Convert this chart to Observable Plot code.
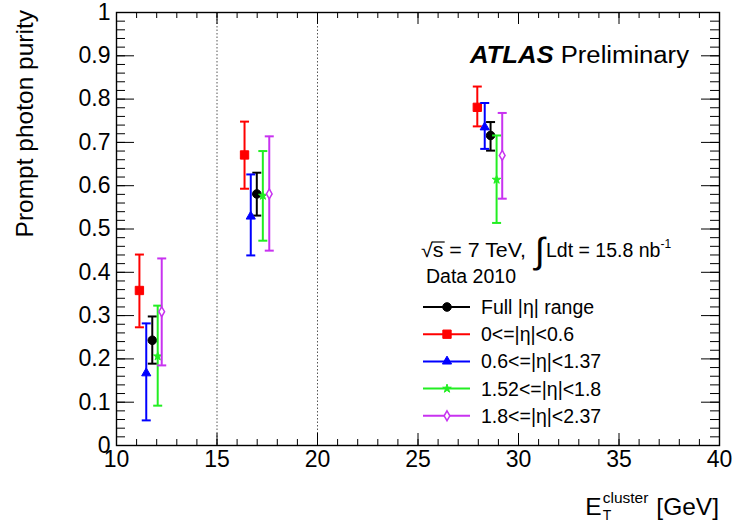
<!DOCTYPE html>
<html><head><meta charset="utf-8">
<script src="https://cdn.jsdelivr.net/npm/d3@7"></script>
<script src="https://cdn.jsdelivr.net/npm/@observablehq/plot@0.6"></script>
<style>
html,body{margin:0;padding:0;background:#fff;}
#chart svg{display:block;}
</style></head><body><div id="chart"></div>
<script>
// ---- data ----
const seriesLabels = ["Full |η| range", "0<=|η|<0.6", "0.6<=|η|<1.37", "1.52<=|η|<1.8", "1.8<=|η|<2.37"];
const etFull = [11.78, 16.98, 28.61];
const etEta1 = [11.14, 16.37, 27.95];
const etEta2 = [11.48, 16.68, 28.32];
const etEta3 = [12.05, 17.28, 28.91];
const etEta4 = [12.25, 17.60, 29.19];
const purityFull = [0.243, 0.581, 0.716];
const purityEta1 = [0.358, 0.671, 0.781];
const purityEta2 = [0.167, 0.529, 0.735];
const purityEta3 = [0.206, 0.577, 0.614];
const purityEta4 = [0.309, 0.581, 0.670];
const lowFull = [0.189, 0.531, 0.681];
const lowEta1 = [0.273, 0.593, 0.737];
const lowEta2 = [0.058, 0.439, 0.685];
const lowEta3 = [0.092, 0.473, 0.514];
const lowEta4 = [0.185, 0.450, 0.570];
const highFull = [0.298, 0.630, 0.747];
const highEta1 = [0.441, 0.748, 0.829];
const highEta2 = [0.282, 0.626, 0.791];
const highEta3 = [0.323, 0.680, 0.716];
const highEta4 = [0.432, 0.714, 0.768];
const xTicks = [10, 15, 20, 25, 30, 35, 40];
const yTicks = [0, 0.1, 0.2, 0.3, 0.4, 0.5, 0.6, 0.7, 0.8, 0.9, 1];
const regionEdges = [15, 20];

// ---- styles ----
const colors = ["#000000", "#ff0000", "#0000ff", "#22ee22", "#c832f0"];
const symbols = ["circle", "square", "triangle", "star", "diamond"];
const symR = [4.3, 4.7, 3.4, 2.7, 3.0];
const symFill = ["#000000", "#ff0000", "#0000ff", "#22ee22", "#ffffff"];
const FONT = "'Liberation Sans', Arial, Helvetica, sans-serif";

const ets = [etFull, etEta1, etEta2, etEta3, etEta4];
const pur = [purityFull, purityEta1, purityEta2, purityEta3, purityEta4];
const lows = [lowFull, lowEta1, lowEta2, lowEta3, lowEta4];
const highs = [highFull, highEta1, highEta2, highEta3, highEta4];
const series = seriesLabels.map((s, k) => ets[k].map((x, i) => ({series: s, x, y: pur[k][i], lo: lows[k][i], hi: highs[k][i]})));

const W = 736, H = 524, mL = 116, mR = 17, mT = 12, mB = 79;
const fw = W - mL - mR, fh = H - mT - mB;
const xMinor = d3.range(10, 40.001, 1);
const yMinor = d3.range(0, 1.0001, 0.02);

const cap = {draw(ctx, size) { const w = Math.sqrt(size / Math.PI); ctx.moveTo(-w, 0); ctx.lineTo(w, 0); }};

const seriesMarks = series.flatMap((rows, k) => [
  Plot.ruleX(rows, {x: "x", y1: "lo", y2: "hi", stroke: colors[k], strokeWidth: 2}),
  Plot.dot(rows, {x: "x", y: "lo", symbol: cap, r: 4.5, stroke: colors[k], strokeWidth: 2, fill: "none"}),
  Plot.dot(rows, {x: "x", y: "hi", symbol: cap, r: 4.5, stroke: colors[k], strokeWidth: 2, fill: "none"}),
  Plot.dot(rows, {x: "x", y: "y", symbol: symbols[k], r: symR[k], fill: symFill[k], stroke: colors[k], strokeWidth: k === 4 ? 1.5 : 1})
]);

const chart = Plot.plot({
  width: W, height: H,
  marginLeft: mL, marginRight: mR, marginTop: mT, marginBottom: mB,
  style: {fontFamily: FONT, background: "#fff", color: "#000"},
  x: {domain: [10, 40]},
  y: {domain: [0, 1]},
  marks: [
    Plot.ruleX(regionEdges, {stroke: "#555", strokeDasharray: "1.5,2", strokeWidth: 1}),
    Plot.ruleX(xMinor, {x: d => d, insetTop: fh - 6, stroke: "#000"}),
    Plot.ruleX(xMinor, {x: d => d, insetBottom: fh - 6, stroke: "#000"}),
    Plot.ruleX(xTicks, {x: d => d, insetTop: fh - 12, stroke: "#000"}),
    Plot.ruleX(xTicks, {x: d => d, insetBottom: fh - 12, stroke: "#000"}),
    Plot.ruleY(yMinor, {y: d => d, insetRight: fw - 9, stroke: "#000"}),
    Plot.ruleY(yMinor, {y: d => d, insetLeft: fw - 9, stroke: "#000"}),
    Plot.ruleY(yTicks, {y: d => d, insetRight: fw - 18, stroke: "#000"}),
    Plot.ruleY(yTicks, {y: d => d, insetLeft: fw - 18, stroke: "#000"}),
    Plot.frame({stroke: "#000", strokeWidth: 1.4}),
    Plot.axisX({ticks: xTicks, tickSize: 0, tickPadding: 5, label: null, fontSize: 23, tickFormat: d => String(d)}),
    Plot.axisY({ticks: yTicks, tickSize: 0, tickPadding: 6, label: null, fontSize: 23, tickFormat: d => String(+d.toFixed(1))}),
    ...seriesMarks
  ]
});
document.getElementById("chart").appendChild(chart);

// ---- annotations, axis titles and legend ----
const svg = d3.select(chart);
const g = svg.append("g").attr("font-family", FONT).attr("fill", "#000").attr("text-anchor", "start");

// y title
g.append("text").attr("transform", "translate(33,10) rotate(-90)").attr("text-anchor", "end")
  .attr("font-size", 24.5).text("Prompt photon purity");

// x title
const gev = g.append("text").attr("x", 719).attr("y", 515).attr("text-anchor", "end").attr("font-size", 24.5).text("[GeV]");
const gevX = gev.node().getBBox().x;
const clu = g.append("text").attr("x", gevX - 8).attr("y", 503).attr("text-anchor", "end").attr("font-size", 15.5).text("cluster");
const cluX = clu.node().getBBox().x;
g.append("text").attr("x", cluX).attr("y", 520).attr("font-size", 14).text("T");
g.append("text").attr("x", cluX - 1).attr("y", 515).attr("text-anchor", "end").attr("font-size", 24.5).text("E");

// ATLAS Preliminary
const atl = g.append("text").attr("x", 470).attr("y", 63).attr("font-size", 23.5)
  .attr("textLength", 219).attr("lengthAdjust", "spacingAndGlyphs");
atl.append("tspan").attr("font-weight", "bold").attr("font-style", "italic").text("ATLAS");
atl.append("tspan").text(" Preliminary");

// energy / luminosity
const lum = g.append("text").attr("x", 421).attr("y", 257).attr("font-size", 19.5)
  .attr("textLength", 105).attr("lengthAdjust", "spacingAndGlyphs");
lum.append("tspan").text("√");
const sT = lum.append("tspan").text("s");
lum.append("tspan").text(" = 7 TeV,");
const sBox = sT.node().getBBox();
g.append("line").attr("x1", sBox.x - 1).attr("x2", sBox.x + sBox.width + 1)
  .attr("y1", sBox.y + 3).attr("y2", sBox.y + 3).attr("stroke", "#000").attr("stroke-width", 1.2);
g.append("text").attr("x", 535).attr("y", 263).attr("font-size", 36)
  .attr("font-family", "'DejaVu Sans', sans-serif").attr("font-weight", "300").text("∫");
const ldt = g.append("text").attr("x", 546).attr("y", 257).attr("font-size", 19.5);
ldt.append("tspan").text("Ldt = 15.8 nb");
ldt.append("tspan").attr("font-size", 12).attr("dy", -9).text("-1");
g.append("text").attr("x", 426).attr("y", 283).attr("font-size", 19.5).text("Data 2010");

// legend
seriesLabels.forEach((lab, k) => {
  const y = 307 + k * 27.2;
  g.append("line").attr("x1", 423).attr("x2", 470).attr("y1", y).attr("y2", y)
    .attr("stroke", colors[k]).attr("stroke-width", 2);
  const type = {circle: d3.symbolCircle, square: d3.symbolSquare, triangle: d3.symbolTriangle, star: d3.symbolStar, diamond: d3.symbolDiamond}[symbols[k]];
  g.append("path").attr("transform", `translate(447,${y})`)
    .attr("d", d3.symbol(type, symR[k] * symR[k] * Math.PI)())
    .attr("fill", symFill[k]).attr("stroke", colors[k]).attr("stroke-width", k === 4 ? 1.5 : 1);
  g.append("text").attr("x", 481).attr("y", y + 7).attr("font-size", 19.5).text(lab);
});
</script></body></html>
